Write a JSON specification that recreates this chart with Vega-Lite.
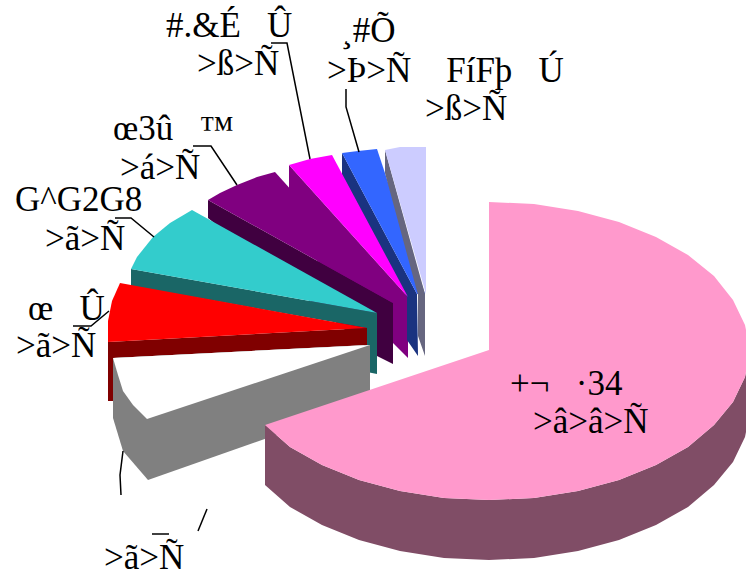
{"$schema":"https://vega.github.io/schema/vega-lite/v6.json","width":746,"height":576,"padding":0,"autosize":"none","background":"white","view":{"stroke":null},"projection":{"type":"identity","scale":1,"translate":[0,0]},"layer":[{"data":{"values":[
{"type":"Feature","properties":{"part":"magenta side"},"geometry":{"type":"Polygon","coordinates":[[[289,165],[408,297],[408,358],[393,343],[289,230],[289,165]]]}},
{"type":"Feature","properties":{"part":"blue side"},"geometry":{"type":"Polygon","coordinates":[[[342,153],[417,294],[418,356],[407,340],[407,297],[342,175],[342,153]]]}},
{"type":"Feature","properties":{"part":"magenta"},"geometry":{"type":"Polygon","coordinates":[[[289,165],[310,159],[332,155],[408,297],[289,165]]]}},
{"type":"Feature","properties":{"part":"blue"},"geometry":{"type":"Polygon","coordinates":[[[342,153],[358,151],[377,149],[425,294],[417,294],[342,153]]]}},
{"type":"Feature","properties":{"part":"lavender side"},"geometry":{"type":"Polygon","coordinates":[[[385,150],[385,173],[418,295],[418,336],[425,356],[425,294],[385,150]]]}},
{"type":"Feature","properties":{"part":"lavender"},"geometry":{"type":"Polygon","coordinates":[[[385,150],[400,147],[426,147],[426,294],[385,150]]]}},
{"type":"Feature","properties":{"part":"purple side"},"geometry":{"type":"Polygon","coordinates":[[[208,200],[393,303],[393,364],[377,356],[208,218],[208,200]]]}},
{"type":"Feature","properties":{"part":"purple"},"geometry":{"type":"Polygon","coordinates":[[[208,200],[220,193],[237,185],[257,177],[275,172],[393,303],[208,200]]]}},
{"type":"Feature","properties":{"part":"teal side"},"geometry":{"type":"Polygon","coordinates":[[[131,269],[377,313],[377,374],[367,372],[367,328],[131,286],[131,269]]]}},
{"type":"Feature","properties":{"part":"teal"},"geometry":{"type":"Polygon","coordinates":[[[131,269],[137,257],[153,237],[170,223],[192,210],[377,313],[131,269]]]}},
{"type":"Feature","properties":{"part":"red side"},"geometry":{"type":"Polygon","coordinates":[[[108,342],[367,328],[367,345],[113,358],[113,401],[108,401],[108,342]]]}},
{"type":"Feature","properties":{"part":"red"},"geometry":{"type":"Polygon","coordinates":[[[120,283],[112,301],[108,321],[108,342],[367,328],[120,283]]]}},
{"type":"Feature","properties":{"part":"white side"},"geometry":{"type":"Polygon","coordinates":[[[113,358],[370,345],[370,402],[148,480],[123,451],[113,418],[113,358]]]}},
{"type":"Feature","properties":{"part":"white"},"geometry":{"type":"Polygon","coordinates":[[[113,358],[118,375],[123,391],[133,405],[147,419],[370,345],[113,358]]]}},
{"type":"Feature","properties":{"part":"pink side"},"geometry":{"type":"Polygon","coordinates":[[[265,425],[290,447],[322,465],[359,480],[400,491],[444,498],[489,500],[534,498],[578,491],[619,480],[656,465],[688,447],[714,425],[733,402],[745,377],[746,372],[746,432],[745,437],[733,462],[714,485],[688,507],[656,525],[619,540],[578,551],[534,558],[489,560],[444,558],[400,551],[359,540],[322,525],[290,507],[265,485],[265,425]]]}},
{"type":"Feature","properties":{"part":"pink"},"geometry":{"type":"Polygon","coordinates":[[[489,202],[534,204],[578,211],[619,222],[656,237],[688,255],[714,276],[733,300],[745,325],[746,330],[746,372],[745,377],[733,402],[714,425],[688,447],[656,465],[619,480],[578,491],[534,498],[489,500],[444,498],[400,491],[359,480],[322,465],[290,447],[265,425],[489,350],[489,202]]]}}
]},"mark":{"type":"geoshape","strokeWidth":0},"encoding":{"color":{"field":"properties.part","type":"nominal","legend":null,"scale":{"domain":["magenta side","blue side","magenta","blue","lavender side","lavender","purple side","purple","teal side","teal","red side","red","white side","white","pink side","pink"],"range":["#800080","#1A3380","#FF00FF","#3366FF","#666680","#CCCCFF","#400040","#800080","#1A6666","#33CCCC","#800000","#FF0000","#808080","#FFFFFF","#804D66","#FF99CC"]}}}},
{"data":{"values":[
{"type":"Feature","properties":{"to":"magenta"},"geometry":{"type":"LineString","coordinates":[[271,43],[287,43],[310,159]]}},
{"type":"Feature","properties":{"to":"blue"},"geometry":{"type":"LineString","coordinates":[[346,89],[346,107],[359,152]]}},
{"type":"Feature","properties":{"to":"purple"},"geometry":{"type":"LineString","coordinates":[[193,146],[211,146],[237,185]]}},
{"type":"Feature","properties":{"to":"teal"},"geometry":{"type":"LineString","coordinates":[[115,218],[131,218],[154,237]]}},
{"type":"Feature","properties":{"to":"red"},"geometry":{"type":"LineString","coordinates":[[73,326],[91,326],[109,311]]}},
{"type":"Feature","properties":{"to":"white"},"geometry":{"type":"LineString","coordinates":[[123,451],[120,475],[121,495]]}},
{"type":"Feature","properties":{"to":"white b"},"geometry":{"type":"LineString","coordinates":[[207,509],[198,531]]}},
{"type":"Feature","properties":{"to":"white c"},"geometry":{"type":"LineString","coordinates":[[152,534],[169,534]]}}
]},"mark":{"type":"geoshape","filled":false,"stroke":"#000000","strokeWidth":1.5}},
{"data":{"values":[
{"label":"#.&É\u00a0\u00a0\u00a0Û","x":166,"y":37},
{"label":">ß>Ñ","x":197,"y":75},
{"label":"¸#Õ","x":341,"y":42},
{"label":">Þ>Ñ\u00a0\u00a0\u00a0\u00a0FíFþ\u00a0\u00a0\u00a0Ú","x":327,"y":82},
{"label":">ß>Ñ","x":425,"y":120},
{"label":"œ3û\u00a0\u00a0\u00a0™","x":113,"y":140},
{"label":">á>Ñ","x":120,"y":179},
{"label":"G^G2G8","x":15,"y":211},
{"label":">ã>Ñ","x":45,"y":250},
{"label":"œ\u00a0\u00a0\u00a0Û","x":28,"y":320},
{"label":">ã>Ñ","x":16,"y":357},
{"label":">ã>Ñ","x":104,"y":569},
{"label":"+¬\u00a0\u00a0\u00a0·34","x":510,"y":395},
{"label":">â>â>Ñ","x":533,"y":433}
]},"mark":{"type":"text","align":"left","baseline":"alphabetic","font":"Liberation Serif","fontSize":35,"color":"#000000"},"encoding":{"longitude":{"field":"x","type":"quantitative"},"latitude":{"field":"y","type":"quantitative"},"text":{"field":"label","type":"nominal"}}}
]}
